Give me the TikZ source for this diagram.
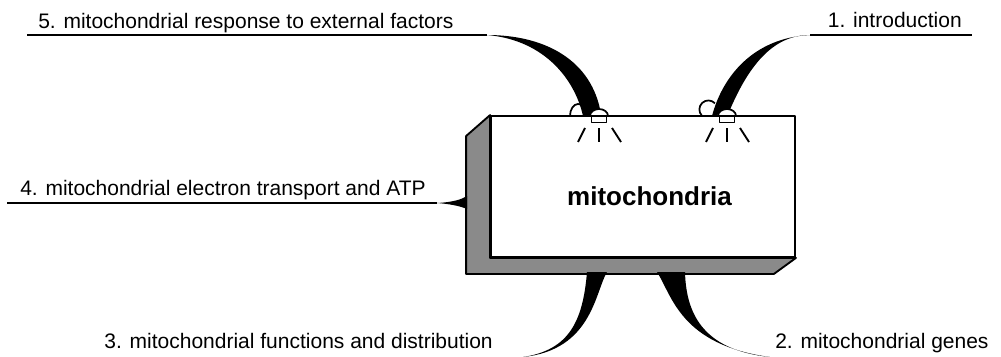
\documentclass[tikz,border=0pt]{standalone}
\usepackage{fontspec}
\setmainfont{Liberation Sans}
\usetikzlibrary{calc}
\definecolor{sidegray}{RGB}{138,138,138}

\begin{document}
\begin{tikzpicture}[x=.75pt,y=-.75pt,line join=round,
    topic/.style={font=\fontsize{15.75}{18}\selectfont,inner sep=0pt},
    topicline/.style={line width=1.1pt},
    ray/.style={line width=1.4pt}]
    \useasboundingbox (0,0) rectangle (1001,357);
    % the box and its grey side
    \node[draw,fill=white,line width=1.4pt,inner sep=0pt,minimum width=228pt,minimum height=105.75pt] (mito) at (643,186.5) {};
    \draw[fill=sidegray,line width=1.4pt] (mito.north west) -- ++(-24,21) |- ($(mito.south east)+(-22,16)$)
      -- (mito.south east) -- (mito.south west) -- cycle;
    \node[font=\bfseries\fontsize{19.5}{22}\selectfont,anchor=base] (title) at (649.5,205) {mitochondria};
    \foreach \lx/\nm in {599/lampA,727/lampB}
      {\coordinate (\nm) at (\lx,116);}
    \coordinate (t1) at (810,35); \coordinate (e1) at (972,35);
    \coordinate (t5) at (487,35); \coordinate (e5) at (27,35);
    \coordinate (t4) at (437,203); \coordinate (e4) at (7,203);
    \coordinate (t3) at (523,357); \coordinate (t2) at (770,357);
    % bulbs at the foot of the upper stems
    \draw[line width=1.3pt] (570,116) arc (180:300:8 and 12);
    \draw[line width=1.3pt] (701.8,115.6) arc (137:317:9);
    % tapered stems
    \fill (t1) .. controls (775,35) and (750,62) .. ($(lampB)+(2,-4)$) -- ($(lampB)+(-15,0)$)
      .. controls (722,78) and (752,38) .. (t1);
    \fill (t5) .. controls (545,35) and (592,60) .. ($(lampA)+(2,-2)$) -- ($(lampA)+(-16,0)$)
      .. controls (575,80) and (545,40) .. (t5);
    \fill (t4) .. controls (455,202) and (462,199) .. (467,196) -- (467,209)
      .. controls (460,206) and (450,204) .. (t4);
    \fill (587,272) .. controls (583,320) and (570,350) .. (t3)
      .. controls (592,350) and (595,292) .. (607,272) -- cycle;
    \fill (657,272) .. controls (672,295) and (680,345) .. (t2)
      .. controls (700,350) and (686,310) .. (685,272) -- cycle;
    % lamps
    \foreach \nm in {lampA,lampB}
      {\draw[fill=white,line width=1.3pt] ($(\nm)+(-9,0)$) arc (180:360:9 and 7) -- cycle;
       \draw[fill=white,line width=1.3pt] ($(\nm)+(-7.5,0)$) rectangle ($(\nm)+(7.5,6.5)$);
       \draw[ray] ($(\nm)+(-14,12)$) -- ($(\nm)+(-21,26)$);
       \draw[ray] ($(\nm)+(0,12)$) -- ($(\nm)+(0,26)$);
       \draw[ray] ($(\nm)+(13,12)$) -- ($(\nm)+(22,26)$);}
    % topics
    \node[topic,anchor=base east] (intro) at (962,27) {1. introduction};
    \node[topic,anchor=base west] (genes) at (775,348) {2. mitochondrial genes};
    \node[topic,anchor=base east] (funcs) at (493,348) {3. mitochondrial functions and distribution};
    \node[topic,anchor=base west] (etc) at (20,195) {4. mitochondrial electron transport and ATP};
    \node[topic,anchor=base west] (resp) at (38,28) {5. mitochondrial response to external factors};
    \draw[topicline] (t1) -- (e1);
    \draw[topicline] (e5) -- (t5);
    \draw[topicline] (e4) -- (t4);
\end{tikzpicture}
\end{document}
